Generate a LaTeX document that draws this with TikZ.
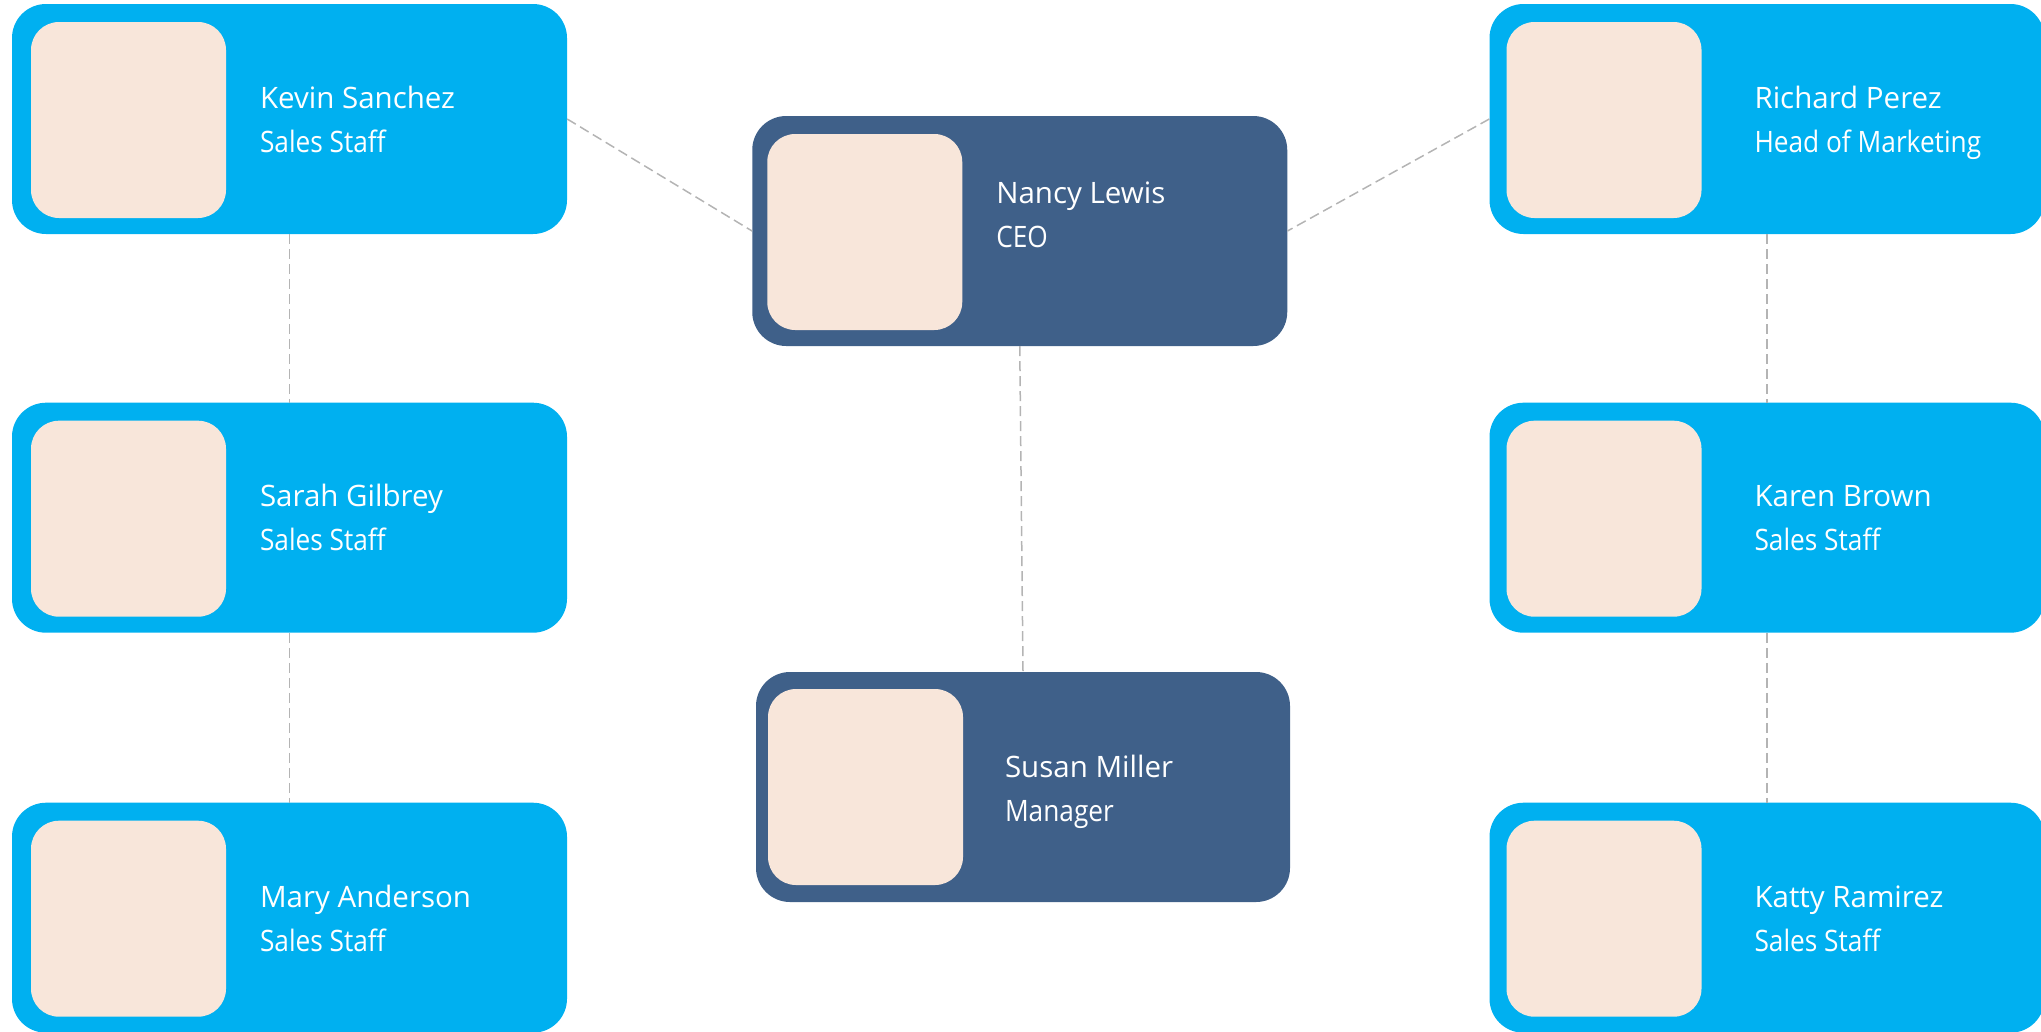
\documentclass[tikz,border=0pt]{standalone}
\usepackage{fontspec}
\setmainfont{Open Sans}
\newfontfamily\rolefont[FakeStretch=0.89]{Open Sans}
\usepackage{tikz}
\usetikzlibrary{positioning}
\definecolor{sky}{HTML}{00B0F0}
\definecolor{navy}{HTML}{3F6089}
\definecolor{skin}{HTML}{F8E6DA}
\definecolor{linkgray}{HTML}{B4B4B4}

\begin{document}
\begin{tikzpicture}[x=1pt, y=-1pt, font=\fontsize{29.5}{35}\selectfont,
  card/.style={rectangle, rounded corners=34pt, minimum width=555pt, minimum height=230pt, inner sep=0pt},
  staff/.style={card, fill=sky},
  boss/.style={card, fill=navy, minimum width=535pt},
  photo/.style={rectangle, rounded corners=28pt, fill=skin, minimum width=195pt, minimum height=196pt, inner sep=0pt, anchor=north west},
  nm/.style={anchor=base west, text=white, inner sep=0pt},
  role/.style={anchor=base west, text=white, inner sep=0pt, font=\rolefont\fontsize{29.5}{35}\selectfont},
  link/.style={draw=linkgray, line width=1.5pt, dash pattern=on 10pt off 5pt}]
\useasboundingbox (0,0) rectangle (2041,1031);
\clip (0,0) rectangle (2041,1031);

% left column
\node[staff] (kevin) at (289.5,119) {};
\node[photo] (kevinpic) at ([shift={(19,18)}]kevin.north west) {};
\node[nm] (kevinname) at ([shift={(248,-11)}]kevin.west) {Kevin Sanchez};
\node[role] (kevinrole) at ([shift={(248,33)}]kevin.west) {Sales Staff};

\node[staff] (sarah) at (289.5,517.7) {};
\node[photo] (sarahpic) at ([shift={(19,18)}]sarah.north west) {};
\node[nm] (sarahname) at ([shift={(248,-11)}]sarah.west) {Sarah Gilbrey};
\node[role] (sarahrole) at ([shift={(248,33)}]sarah.west) {Sales Staff};

\node[staff] (mary) at (289.5,917.7) {};
\node[photo] (marypic) at ([shift={(19,18)}]mary.north west) {};
\node[nm] (maryname) at ([shift={(248,-10)}]mary.west) {Mary Anderson};
\node[role] (maryrole) at ([shift={(248,34)}]mary.west) {Sales Staff};

% middle
\node[boss] (nancy) at (1019.75,231) {};
\node[photo] (nancypic) at ([shift={(15,18)}]nancy.north west) {};
\node[nm] (nancyname) at ([shift={(244,-28)}]nancy.west) {Nancy Lewis};
\node[role] (nancyrole) at ([shift={(244,16)}]nancy.west) {CEO};

\node[boss, minimum width=534pt] (susan) at (1023,787) {};
\node[photo] (susanpic) at ([shift={(12,17)}]susan.north west) {};
\node[nm] (susanname) at ([shift={(249,-10)}]susan.west) {Susan Miller};
\node[role] (susanrole) at ([shift={(249,34)}]susan.west) {Manager};

% right column
\node[staff] (richard) at (1767,119) {};
\node[photo] (richardpic) at ([shift={(17,18)}]richard.north west) {};
\node[nm] (richardname) at ([shift={(265,-11)}]richard.west) {Richard Perez};
\node[role] (richardrole) at ([shift={(265,33)}]richard.west) {Head of Marketing};

\node[staff] (karen) at (1767,517.7) {};
\node[photo] (karenpic) at ([shift={(17,18)}]karen.north west) {};
\node[nm] (karenname) at ([shift={(265,-11)}]karen.west) {Karen Brown};
\node[role] (karenrole) at ([shift={(265,33)}]karen.west) {Sales Staff};

\node[staff] (katty) at (1767,917.7) {};
\node[photo] (kattypic) at ([shift={(17,18)}]katty.north west) {};
\node[nm] (kattyname) at ([shift={(265,-10)}]katty.west) {Katty Ramirez};
\node[role] (kattyrole) at ([shift={(265,34)}]katty.west) {Sales Staff};

% dashed links
\draw[link] (kevin.east) -- (nancy.west);
\draw[link] (richard.west) -- (nancy.east);
\draw[link] (nancy.south) -- (susan.north);
\draw[link] (kevin.south) -- (sarah.north);
\draw[link] (sarah.south) -- (mary.north);
\draw[link] (richard.south) -- (karen.north);
\draw[link] (karen.south) -- (katty.north);
\end{tikzpicture}
\end{document}
